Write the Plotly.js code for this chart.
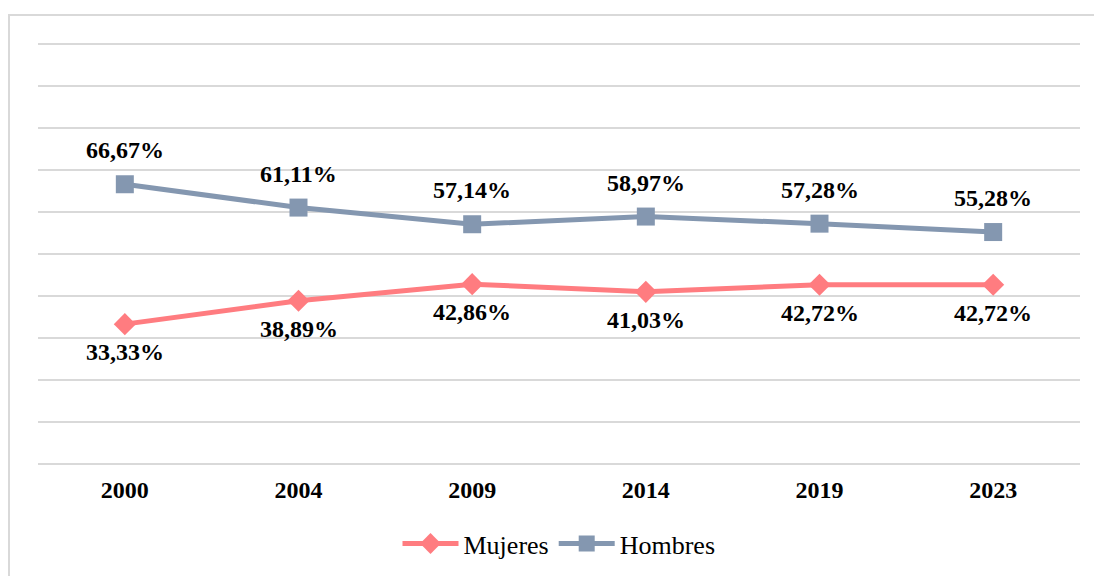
<!DOCTYPE html>
<html>
<head>
<meta charset="utf-8">
<script src="https://cdn.plot.ly/plotly-3.0.1.min.js"></script>
<style>
  html, body { margin: 0; padding: 0; background: #fff; overflow: hidden; font-family: 'Liberation Serif'; }
  #frame { position: absolute; left: 8px; top: 14px; width: 1200px; height: 700px; border-left: 2px solid #d9d9d9; border-top: 2px solid #d9d9d9; box-sizing: border-box; }
  #chart { position: absolute; left: 0; top: 0; width: 1094px; height: 576px; }
  #fontwarm { position: absolute; left: -3000px; top: 0; width: 1000px; font-family: 'Liberation Serif'; font-size: 24px; color: #000; }
</style>
</head>
<body>
<div id="frame"></div>
<div id="chart"></div>
<div id="fontwarm"></div>
<script>
const years = ['2000', '2004', '2009', '2014', '2019', '2023'];
const mujeres = [33.33, 38.89, 42.86, 41.03, 42.72, 42.72];
const hombres = [66.67, 61.11, 57.14, 58.97, 57.28, 55.28];
const seriesNames = ['Mujeres', 'Hombres'];

const fmt = v => v.toFixed(2).replace('.', ',') + '%';
const FONT = 'Liberation Serif';

const traces = [
  {
    x: years, y: mujeres, name: seriesNames[0], type: 'scatter', mode: 'lines+markers',
    line: { color: '#FF7C80', width: 5 },
    marker: { symbol: 'diamond', size: 17, color: '#FF7C80' },
    hoverinfo: 'skip'
  },
  {
    x: years, y: hombres, name: seriesNames[1], type: 'scatter', mode: 'lines+markers',
    line: { color: '#8497B0', width: 5 },
    marker: { symbol: 'square', size: 18, color: '#8497B0' },
    hoverinfo: 'skip'
  }
];

const annotations = [];
years.forEach((yr, i) => {
  annotations.push({ xref: 'x', yref: 'y', x: i, y: hombres[i], text: fmt(hombres[i]), showarrow: false,
    yshift: 34, xanchor: 'center', yanchor: 'middle', font: { family: FONT, size: 24, color: '#000', weight: 'bold' } });
  annotations.push({ xref: 'x', yref: 'y', x: i, y: mujeres[i], text: fmt(mujeres[i]), showarrow: false,
    yshift: -28, xanchor: 'center', yanchor: 'middle', font: { family: FONT, size: 24, color: '#000', weight: 'bold' } });
});

const layout = {
  width: 1094, height: 576,
  paper_bgcolor: 'rgba(0,0,0,0)', plot_bgcolor: 'rgba(0,0,0,0)',
  margin: { l: 38, r: 14, t: 35.6, b: 112, autoexpand: false },
  font: { family: FONT, color: '#000' },
  showlegend: true,
  legend: { orientation: 'h', x: 0.5, xanchor: 'center', y: -0.186, yanchor: 'middle', itemwidth: 56,
    font: { family: FONT, size: 26, color: '#000' } },
  xaxis: {
    type: 'category', range: [-0.5, 5.5], showgrid: false, zeroline: false, showline: false,
    ticks: '', tickfont: { family: FONT, size: 24, color: '#000', weight: 'bold' }, ticklabelstandoff: 9
  },
  yaxis: {
    range: [0, 102], dtick: 10, tick0: 0, showgrid: true, gridcolor: '#d9d9d9', gridwidth: 2,
    zeroline: true, zerolinecolor: '#d9d9d9', zerolinewidth: 2, showticklabels: false, ticks: '', showline: false
  },
  annotations: annotations
};

Plotly.newPlot('chart', traces, layout, { displayModeBar: false, staticPlot: true }).then(gd => {
  const out = [];
  gd.querySelectorAll('.annotation-text, .legendtext, .xtick text').forEach(t => {
    out.push(t.textContent + ' ' + getComputedStyle(t).fontFamily);
  });
  const warm = document.getElementById('fontwarm');
  warm.textContent = out.join(' ');
  const b = document.createElement('b');
  b.textContent = ' ' + seriesNames.join(' ');
  warm.appendChild(b);
});
</script>
</body>
</html>
